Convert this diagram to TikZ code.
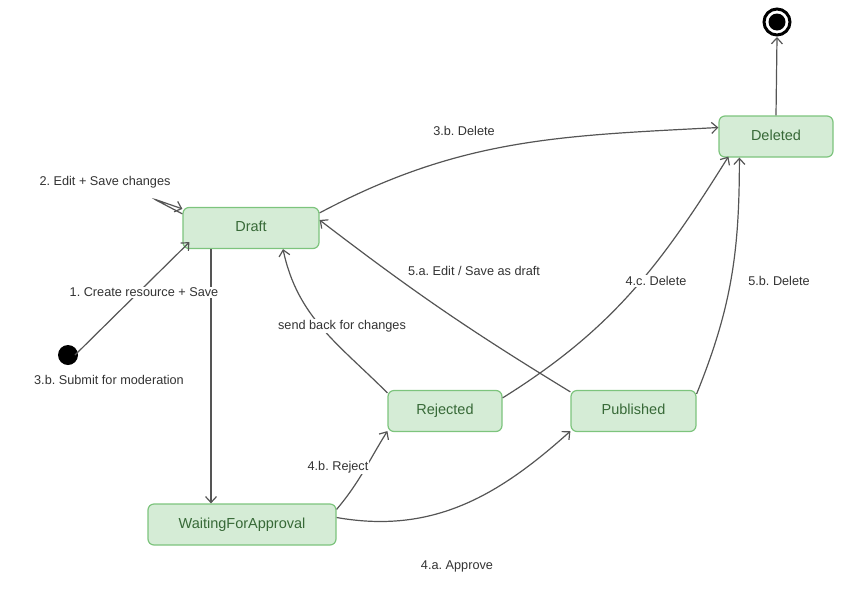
\documentclass[tikz,border=0pt]{standalone}
\usepackage{fontspec}
\setmainfont{Liberation Sans}
\usetikzlibrary{arrows.meta}
\definecolor{mint}{RGB}{213, 236, 214}
\definecolor{leaf}{RGB}{125, 196, 125}
\definecolor{forest}{RGB}{55, 105, 55}
\definecolor{slate}{RGB}{85, 85, 85}
\frenchspacing

\begin{document}
\begin{tikzpicture}[x=1pt, y=1pt,
        statebox/.style={draw=leaf, fill=mint, text=forest, line width=1.2pt, rounded corners=6pt,
                         minimum height=41pt, inner sep=0pt, text height=0.72em, text depth=0em,
                         font=\fontsize{14.5}{17}\selectfont},
        trans/.style={draw=slate, line width=1.2pt, -{Straight Barb[length=6pt, width=11pt]}},
        lbl/.style={fill=white, inner sep=1pt, text=black!80, font=\fontsize{12.7}{15}\selectfont}]
            % Frame to ensure alignment:
            \useasboundingbox                                                 (0, 0) rectangle (856, -603);
            % States
            \node[statebox, minimum width=136pt] (draft)     at (251.0, -228.0) {Draft};
            \node[statebox, minimum width=114pt] (deleted)   at (776.0, -136.5) {Deleted};
            \node[statebox, minimum width=114pt] (rejected)  at (445.0, -411.0) {Rejected};
            \node[statebox, minimum width=125pt] (published) at (633.5, -411.0) {Published};
            \node[statebox, minimum width=188pt] (waiting)   at (242.0, -524.5) {WaitingForApproval};
            % Initial & final pseudo states
            \fill[black]                                                      (68, -355) circle (10pt);
            \coordinate (init) at (68, -355);
            \draw[black, line width=3pt]                                      (777, -22) circle (13pt);
            \fill[black]                                                      (777, -22) circle (8.5pt);
            \coordinate (final) at (777, -37);
            \coordinate (loop)  at (154, -199);
            % Transitions
            \draw[trans] ([xshift=7pt]init) -- ([xshift=7pt, yshift=7pt]draft.south west);
            \draw[trans, rounded corners=2pt] ([yshift=-7pt]draft.north west) -- (loop) -- ([yshift=-2pt]draft.north west);
            \draw[trans] ([xshift=-40pt]draft.south) -- ([xshift=-31pt]waiting.north);
            \draw[trans] ([yshift=-6pt]draft.north east) to[out=28, in=183] ([yshift=9pt]deleted.west);
            \draw[trans] ([yshift=-2pt]published.north west) to[bend left=3] ([yshift=8pt]draft.east);
            \draw[trans] ([yshift=-3pt]rejected.north west) to[out=135, in=-78] ([xshift=32pt]draft.south);
            \draw[trans] ([yshift=-8pt]rejected.north east) to[out=32, in=238] ([xshift=10pt, yshift=1pt]deleted.south west);
            \draw[trans] ([yshift=-4pt]published.north east) to[out=68, in=-90] ([xshift=21pt]deleted.south west);
            \draw[trans] ([yshift=-6pt]waiting.north east) to[out=50, in=238] ([yshift=1pt]rejected.south west);
            \draw[trans] ([yshift=7pt]waiting.east) to[out=-10, in=222] ([yshift=1pt]published.south west);
            \draw[trans] (deleted.north) -- (final);
            % Labels
            \node[lbl] (l1)  at (144, -292) {1. Create resource + Save};
            \node[lbl] (l2)  at (105, -182) {2. Edit + Save changes};
            \node[lbl] (l3)  at (109, -380) {3.b. Submit for moderation};
            \node[lbl] (l4)  at (464, -131) {3.b. Delete};
            \node[lbl] (l5)  at (474, -271) {5.a. Edit / Save as draft};
            \node[lbl] (l6)  at (342, -326) {send back for changes};
            \node[lbl] (l7)  at (656, -281) {4.c. Delete};
            \node[lbl] (l8)  at (779, -281) {5.b. Delete};
            \node[lbl] (l9)  at (338, -467) {4.b. Reject};
            \node[lbl] (l10) at (457, -566) {4.a. Approve};
        \end{tikzpicture}
\end{document}
